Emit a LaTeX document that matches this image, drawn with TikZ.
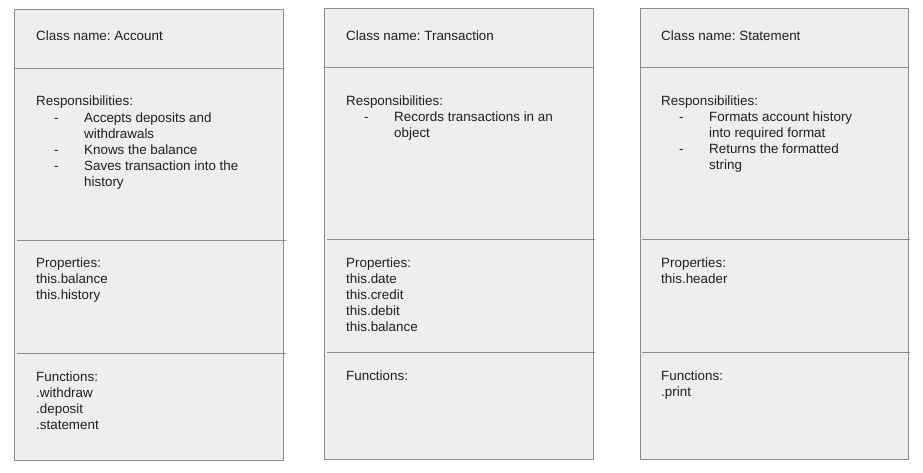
\documentclass[tikz,border=0pt]{standalone}
\usepackage{fontspec}
\setmainfont{Liberation Sans}
\usetikzlibrary{positioning}
\frenchspacing
\definecolor{boxfill}{HTML}{EEEEEE}
\definecolor{boxline}{HTML}{8C8C8C}
\newcommand{\bul}{\hspace*{18pt}\makebox[30pt][l]{-}}
\newcommand{\cont}{\hspace*{48pt}}
\begin{document}
\begin{tikzpicture}[x=1pt,y=-1pt,line join=round]
\tikzset{every node/.style={inner sep=0pt,text=black!88,font=\fontsize{13.4}{16}\selectfont\frenchspacing},
 txt/.style={anchor=base west},
 card/.style={fill=boxfill,draw=boxline,line width=1pt},
 sep/.style={draw=boxline,line width=1pt}}
\useasboundingbox (0,0) rectangle (923,472);
% Account
\draw[card] (14,9) rectangle (283,460);
\draw[sep] (14,68)--(283,68);
\draw[sep] (17,240)--(286,240);
\draw[sep] (17,353)--(286,353);
\node[txt] (acc-name) at (36,40.5) {Class name: Account};
\node[txt] (acc-resp) at (36,105) {Responsibilities:};
\foreach \t [count=\i from 0] in {{\bul Accepts deposits and},{\cont withdrawals},{\bul Knows the balance},{\bul Saves transaction into the},{\cont history}}
  \node[txt] (acc-resp-\i) at (36,122+16*\i) {\t};
\foreach \t [count=\i from 0] in {Properties:,this.balance,this.history}
  \node[txt] (acc-prop-\i) at (36,267.5+16*\i) {\t};
\foreach \t [count=\i from 0] in {Functions:,.withdraw,.deposit,.statement}
  \node[txt] (acc-fn-\i) at (36,381+16*\i) {\t};
% Transaction
\draw[card] (324,8) rectangle (593,459);
\draw[sep] (324,67)--(593,67);
\draw[sep] (327,239)--(595,239);
\draw[sep] (327,352)--(595,352);
\node[txt] (tra-name) at (346,40) {Class name: Transaction};
\node[txt] (tra-resp) at (346,105) {Responsibilities:};
\foreach \t [count=\i from 0] in {{\bul Records transactions in an},{\cont object}}
  \node[txt] (tra-resp-\i) at (346,121.5+16*\i) {\t};
\foreach \t [count=\i from 0] in {Properties:,this.date,this.credit,this.debit,this.balance}
  \node[txt] (tra-prop-\i) at (346,267+16*\i) {\t};
\node[txt] (tra-fn) at (346,380.5) {Functions:};
% Statement
\draw[card] (640,8) rectangle (908,459);
\draw[sep] (640,67)--(908,67);
\draw[sep] (642,239)--(910,239);
\draw[sep] (642,352)--(910,352);
\node[txt] (sta-name) at (661,40) {Class name: Statement};
\node[txt] (sta-resp) at (661,105) {Responsibilities:};
\foreach \t [count=\i from 0] in {{\bul Formats account history},{\cont into required format},{\bul Returns the formatted},{\cont string}}
  \node[txt] (sta-resp-\i) at (661,121.5+16*\i) {\t};
\foreach \t [count=\i from 0] in {Properties:,this.header}
  \node[txt] (sta-prop-\i) at (661,267+16*\i) {\t};
\foreach \t [count=\i from 0] in {Functions:,.print}
  \node[txt] (sta-fn-\i) at (661,380.5+16*\i) {\t};
\end{tikzpicture}
\end{document}
